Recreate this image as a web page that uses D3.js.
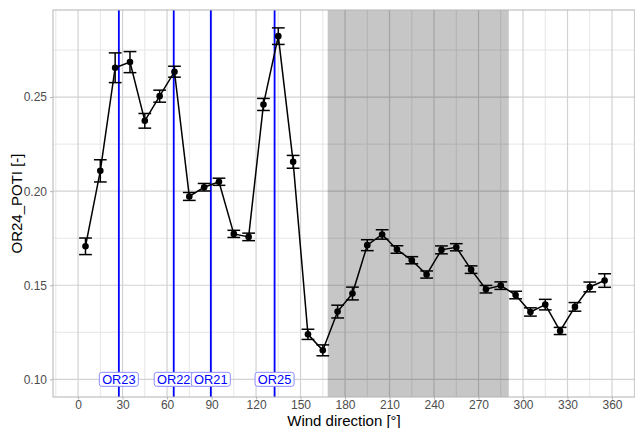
<!DOCTYPE html>
<html>
<head>
<meta charset="utf-8">
<script src="https://cdn.jsdelivr.net/npm/d3@7"></script>
<style>
  body { margin: 0; background: #fff; }
  svg { display: block; font-family: "Liberation Sans", Arial, sans-serif; }
</style>
</head>
<body>
<svg width="635" height="428"></svg>
<script>
// wind direction sectors (deg) and OR24_POTI means / error half-widths
var directions = [5,15,25,35,45,55,65,75,85,95,105,115,125,135,145,155,165,175,
                  185,195,205,215,225,235,245,255,265,275,285,295,305,315,325,335,345,355];
var poti = [0.1707,0.2108,0.2656,0.2686,0.2374,0.2505,0.2635,0.1972,0.2021,0.2050,0.1773,0.1757,
            0.2461,0.2824,0.2156,0.1239,0.1154,0.1360,0.1456,0.1713,0.1770,0.1690,0.1633,0.1557,
            0.1688,0.1702,0.1583,0.1479,0.1498,0.1448,0.1358,0.1397,0.1257,0.1385,0.1491,0.1525];
var poti_err = [0.0044,0.0059,0.0079,0.0056,0.0039,0.0032,0.0029,0.0021,0.0020,0.0019,0.0019,0.0020,
                0.0032,0.0044,0.0034,0.0027,0.0029,0.0034,0.0034,0.0029,0.0025,0.0020,0.0019,0.0019,
                0.0021,0.0019,0.0020,0.0020,0.0020,0.0020,0.0022,0.0028,0.0019,0.0023,0.0026,0.0036];

// neighbouring stations and their bearing
var stations = ["OR23","OR22","OR21","OR25"];
var station_dir = [27.5,64.5,89.5,132.5];
var label_level = 0.10;

// shaded sector
var sector = [168.3,290.4];

var x_ticks = d3.range(0,361,30);
var x_minor = d3.range(-15,376,30);
var y_ticks = [0.10,0.15,0.20,0.25];
var y_minor = [0.125,0.175,0.225,0.275];

window.onload = function() {
  var svg = d3.select("svg");
  var pLeft = 53, pRight = 635, pTop = 10, pBottom = 397;

  var x = d3.scaleLinear().domain([-16.9,375.5]).range([pLeft,pRight]);
  var y = d3.scaleLinear().domain([0.0906,0.2963]).range([pBottom,pTop]);

  var panel = svg.append("g");

  // grid
  panel.selectAll(".xminor").data(x_minor).enter().append("line")
    .attr("x1",function(d){return x(d);}).attr("x2",function(d){return x(d);})
    .attr("y1",pTop).attr("y2",pBottom)
    .attr("stroke","#e6e6e6").attr("stroke-width",1);
  panel.selectAll(".yminor").data(y_minor).enter().append("line")
    .attr("x1",pLeft).attr("x2",pRight)
    .attr("y1",function(d){return y(d);}).attr("y2",function(d){return y(d);})
    .attr("stroke","#e6e6e6").attr("stroke-width",1);
  panel.selectAll(".xmajor").data(x_ticks).enter().append("line")
    .attr("x1",function(d){return x(d);}).attr("x2",function(d){return x(d);})
    .attr("y1",pTop).attr("y2",pBottom)
    .attr("stroke","#d2d2d2").attr("stroke-width",1.2);
  panel.selectAll(".ymajor").data(y_ticks).enter().append("line")
    .attr("x1",pLeft).attr("x2",pRight)
    .attr("y1",function(d){return y(d);}).attr("y2",function(d){return y(d);})
    .attr("stroke","#d2d2d2").attr("stroke-width",1.2);

  // shaded sector
  panel.append("rect")
    .attr("x",x(sector[0])).attr("width",x(sector[1])-x(sector[0]))
    .attr("y",pTop).attr("height",pBottom-pTop)
    .attr("fill","#000").attr("fill-opacity",0.225);

  // station lines
  panel.selectAll(".vline").data(station_dir).enter().append("line")
    .attr("x1",function(d){return x(d);}).attr("x2",function(d){return x(d);})
    .attr("y1",pTop).attr("y2",pBottom)
    .attr("stroke","#0000ff").attr("stroke-width",1.8);

  // data line, error bars, points
  var pts = directions.map(function(d,i){ return {dir:d, v:poti[i], e:poti_err[i]}; });
  var line = d3.line().x(function(d){return x(d.dir);}).y(function(d){return y(d.v);});
  panel.append("path").datum(pts).attr("d",line)
    .attr("fill","none").attr("stroke","#000").attr("stroke-width",1.5);

  var capw = 4.3;
  var eb = panel.selectAll(".eb").data(pts).enter().append("g")
    .attr("stroke","#000").attr("stroke-width",1.5);
  eb.append("line")
    .attr("x1",function(d){return x(d.dir);}).attr("x2",function(d){return x(d.dir);})
    .attr("y1",function(d){return y(d.v-d.e);}).attr("y2",function(d){return y(d.v+d.e);});
  eb.append("line")
    .attr("x1",function(d){return x(d.dir-capw);}).attr("x2",function(d){return x(d.dir+capw);})
    .attr("y1",function(d){return y(d.v-d.e);}).attr("y2",function(d){return y(d.v-d.e);});
  eb.append("line")
    .attr("x1",function(d){return x(d.dir-capw);}).attr("x2",function(d){return x(d.dir+capw);})
    .attr("y1",function(d){return y(d.v+d.e);}).attr("y2",function(d){return y(d.v+d.e);});
  panel.selectAll(".pt").data(pts).enter().append("circle")
    .attr("cx",function(d){return x(d.dir);}).attr("cy",function(d){return y(d.v);})
    .attr("r",3.3).attr("fill","#000");

  // station labels
  var lab = panel.selectAll(".lab").data(stations).enter().append("g")
    .attr("transform",function(d,i){return "translate(" + x(station_dir[i]) + "," + y(label_level) + ")";});
  lab.append("rect")
    .attr("x",-19.5).attr("y",-7).attr("width",39).attr("height",14)
    .attr("rx",2.5).attr("fill","#fff").attr("stroke","#8c8cff").attr("stroke-width",1);
  lab.append("text").text(function(d){return d;})
    .attr("text-anchor","middle").attr("dy","0.36em")
    .attr("font-size","12.8px").attr("fill","#0000ff");

  // panel border
  svg.append("rect").attr("x",pLeft).attr("y",pTop)
    .attr("width",pRight-pLeft).attr("height",pBottom-pTop)
    .attr("fill","none").attr("stroke","#b3b3b3").attr("stroke-width",1);

  // axes
  var xaxis = svg.append("g").attr("transform","translate(0," + pBottom + ")")
    .call(d3.axisBottom(x).tickValues(x_ticks).tickSize(2.5).tickPadding(1).tickFormat(d3.format("d")));
  var yaxis = svg.append("g").attr("transform","translate(" + pLeft + ",0)")
    .call(d3.axisLeft(y).tickValues(y_ticks).tickSize(3).tickPadding(3).tickFormat(d3.format(".2f")));
  [xaxis,yaxis].forEach(function(a){
    a.select(".domain").remove();
    a.selectAll(".tick line").attr("stroke","#b3b3b3");
    a.selectAll(".tick text").attr("fill","#4d4d4d").attr("font-size","12px")
      .attr("font-family","Liberation Sans, Arial, sans-serif");
  });

  svg.append("text").text("Wind direction [°]")
    .attr("x",(pLeft+pRight)/2).attr("y",425.5)
    .attr("text-anchor","middle").attr("font-size","15px").attr("fill","#000");
  svg.append("text").text("OR24_POTI [-]")
    .attr("transform","translate(22," + (pTop+pBottom)/2 + ") rotate(-90)")
    .attr("text-anchor","middle").attr("font-size","15px").attr("fill","#000");
};
</script>
</body>
</html>
